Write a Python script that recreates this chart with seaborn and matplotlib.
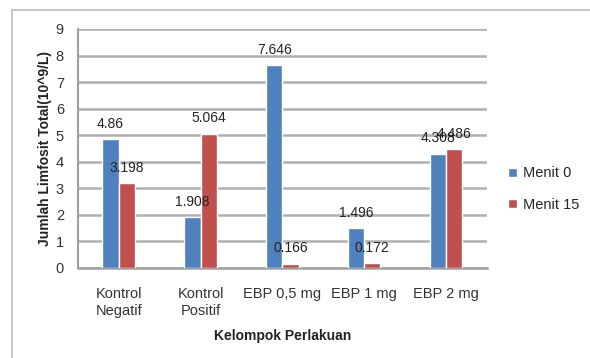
import matplotlib
matplotlib.use("Agg")
import matplotlib.pyplot as plt
import seaborn as sns
import pandas as pd
from matplotlib.patches import Rectangle

# data
kelompok = ["Kontrol\nNegatif", "Kontrol\nPositif", "EBP 0,5 mg", "EBP 1 mg", "EBP 2 mg"]
menit_0 = [4.86, 1.908, 7.646, 1.496, 4.308]
menit_15 = [3.198, 5.064, 0.166, 0.172, 4.486]
label_0 = ["4.86", "1.908", "7.646", "1.496", "4.308"]
label_15 = ["3.198", "5.064", "0.166", "0.172", "4.486"]
series = ["Menit 0", "Menit 15"]

df = pd.DataFrame({
    "Kelompok": kelompok * 2,
    "Nilai": menit_0 + menit_15,
    "Waktu": [series[0]] * len(kelompok) + [series[1]] * len(kelompok),
})

sns.set_style("white")
plt.rcParams['font.family'] = ['Liberation Sans', 'DejaVu Sans']

fig = plt.figure(figsize=(5.9, 3.58), dpi=100)
ax = fig.add_axes([0.132, 0.2514, 0.693, 0.6676])

# outer chart border like the Excel chart area
fig.patches.append(Rectangle((12 / 590, -0.1), 1.2, 1 - 10 / 358 + 0.1,
                             transform=fig.transFigure, fill=False,
                             edgecolor="#c8c8c8", linewidth=1.5))

sns.barplot(data=df, x="Kelompok", y="Nilai", hue="Waktu", ax=ax,
            palette=["#4F81BD", "#C0504D"], width=0.4, gap=0,
            saturation=1, errorbar=None, zorder=3)

for cont, labs in zip(ax.containers, [label_0, label_15]):
    ax.bar_label(cont, labels=labs, padding=6, fontsize=10, color="#222222", zorder=4)

ax.set_ylim(0, 9)
ax.set_xlim(-0.5, 4.5)
ax.set_yticks(range(0, 10))
ax.yaxis.grid(True, color="#b0b0b0", linewidth=1.8, zorder=0)
ax.set_axisbelow(True)

for s in ["top", "right"]:
    ax.spines[s].set_visible(False)
ax.spines["left"].set_color("#a0a0a0")
ax.spines["bottom"].set_color("#a0a0a0")
ax.spines["left"].set_linewidth(1.5)
ax.spines["bottom"].set_linewidth(1.8)

ax.tick_params(axis="y", length=5, color="#a0a0a0", width=1.5, labelsize=10.5, pad=5)
ax.tick_params(axis="x", length=0, labelsize=10.5, pad=14)
for t in ax.get_xticklabels() + ax.get_yticklabels():
    t.set_color("#333333")

ax.set_xlabel("Kelompok Perlakuan", fontsize=10, fontweight="bold", labelpad=8, color="#222222")
ax.set_ylabel("Jumlah Limfosit Total(10^9/L)", fontsize=10, fontweight="bold", labelpad=3, color="#222222")

leg = ax.legend(loc="center left", bbox_to_anchor=(1.02, 0.33), frameon=False,
                fontsize=10.5, handlelength=0.6, handleheight=0.6, handletextpad=0.4,
                labelspacing=1.2)

fig.savefig("out.png", dpi=100)
